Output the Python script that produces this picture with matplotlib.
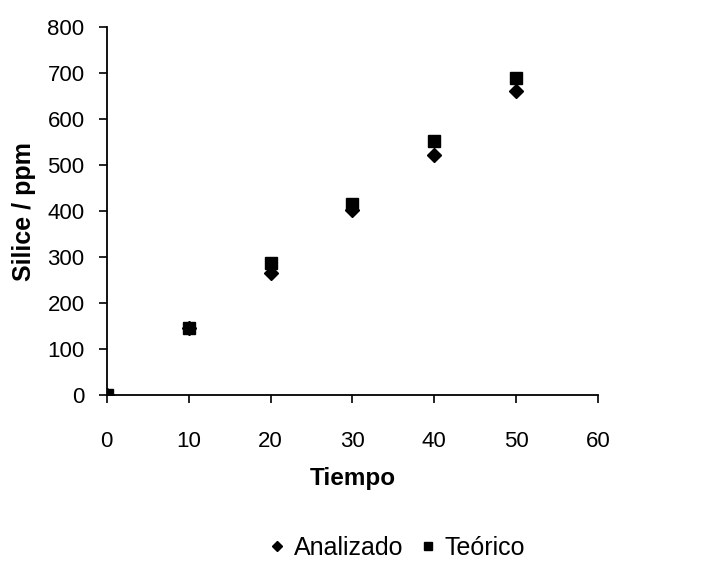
import matplotlib
matplotlib.use("Agg")
import matplotlib.pyplot as plt

plt.rcParams['font.family'] = ['Liberation Sans', 'DejaVu Sans']

tiempo = [0, 10, 20, 30, 40, 50]
analizado = [0, 146, 266, 402, 522, 661]
teorico = [0, 146, 287, 416, 553, 690]

x_ticks = [0, 10, 20, 30, 40, 50, 60]
y_ticks = [0, 100, 200, 300, 400, 500, 600, 700, 800]

fig = plt.figure(figsize=(7.07, 5.66), dpi=100)
ax = fig.add_axes([0.151, 0.302, 0.695, 0.650])

ax.plot(tiempo, teorico, linestyle='none', marker='s', markersize=8,
        color='black', label='Teórico', zorder=3)
ax.plot(tiempo, analizado, linestyle='none', marker='D', markersize=7,
        color='black', markeredgecolor='black', label='Analizado', zorder=4)

ax.set_xlim(0, 60)
ax.set_ylim(0, 800)
ax.set_xticks(x_ticks)
ax.set_yticks(y_ticks)
ax.tick_params(axis='both', labelsize=16, length=6, width=1.2, color='black')
ax.tick_params(axis='x', pad=20)
ax.tick_params(axis='y', pad=10)
for s in ['top', 'right']:
    ax.spines[s].set_visible(False)
for s in ['left', 'bottom']:
    ax.spines[s].set_linewidth(1.3)

ax.set_xlabel('Tiempo', fontsize=17.5, fontweight='bold', labelpad=11)
ax.set_ylabel('Silice / ppm', fontsize=18, fontweight='bold', labelpad=8)

handles, labels = ax.get_legend_handles_labels()
leg = fig.legend([handles[1], handles[0]], [labels[1], labels[0]],
                 loc='center', bbox_to_anchor=(0.562, 0.032), ncol=2,
                 frameon=False, fontsize=18, markerscale=0.8,
                 handlelength=0.6, handletextpad=0.35, columnspacing=0.7)

fig.savefig('out.png', dpi=100)
